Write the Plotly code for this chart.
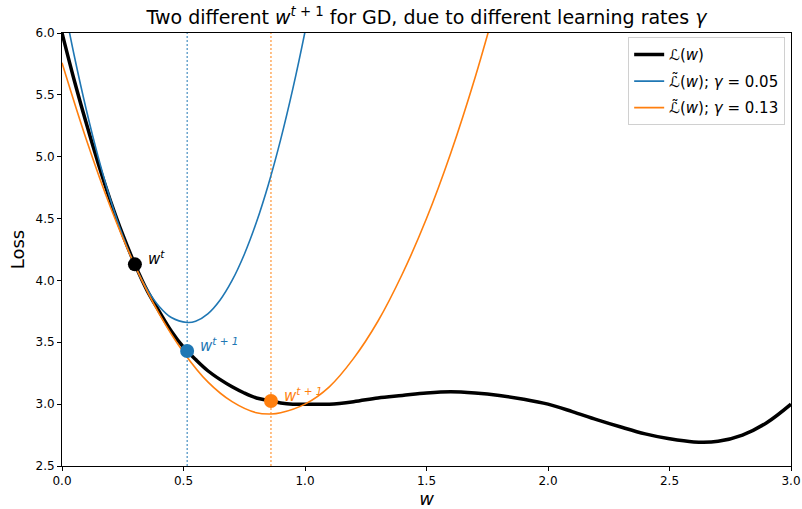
import plotly.graph_objects as go

# Loss curve L(w)
w_loss = [0.00, 0.05, 0.10, 0.15, 0.20, 0.25, 0.30, 0.35, 0.40, 0.45, 0.50, 0.55, 0.60,
          0.65, 0.70, 0.75, 0.80, 0.85, 0.90, 0.95, 1.00, 1.10, 1.20, 1.30, 1.40, 1.50,
          1.60, 1.70, 1.80, 1.90, 2.00, 2.10, 2.20, 2.30, 2.40, 2.50, 2.60, 2.70, 2.80,
          2.90, 3.00]
loss = [6.00, 5.62, 5.27, 4.94, 4.64, 4.37, 4.13, 3.92, 3.75, 3.59, 3.46, 3.36, 3.27,
        3.20, 3.14, 3.09, 3.05, 3.03, 3.01, 3.00, 3.00, 3.00, 3.02, 3.05, 3.07, 3.09,
        3.10, 3.09, 3.07, 3.04, 3.00, 2.94, 2.875, 2.815, 2.76, 2.72, 2.695, 2.70, 2.75,
        2.85, 3.00]

# Quadratic model, gamma = 0.05
w_blue = [0.00, 0.05, 0.10, 0.15, 0.20, 0.25, 0.30, 0.35, 0.40, 0.45, 0.515, 0.55, 0.60,
          0.65, 0.70, 0.75, 0.80, 0.85, 0.90, 0.95, 1.00, 1.05]
loss_blue = [6.31, 5.82, 5.38, 4.99, 4.65, 4.36, 4.12, 3.93, 3.79, 3.70, 3.66, 3.67, 3.73,
             3.84, 4.00, 4.21, 4.47, 4.78, 5.14, 5.55, 6.01, 6.52]

# Quadratic model, gamma = 0.13
w_orange = [0.00, 0.10, 0.20, 0.30, 0.40, 0.50, 0.60, 0.70, 0.80, 0.86, 0.90, 1.00, 1.10,
            1.20, 1.30, 1.40, 1.50, 1.60, 1.70, 1.80]
loss_orange = [5.76, 5.14, 4.59, 4.12, 3.73, 3.42, 3.18, 3.02, 2.93, 2.92, 2.93, 3.00, 3.14,
               3.37, 3.67, 4.05, 4.50, 5.03, 5.64, 6.33]

# iterates
w_t = [0.30]
loss_t = [4.13]
w_next = [0.515, 0.86]
loss_next = [3.43, 3.025]

BLUE = "#1f77b4"
ORANGE = "#ff7f0e"
FONT = "DejaVu Sans"

fig = go.Figure()
fig.add_trace(go.Scatter(x=w_loss, y=loss, mode="lines", line=dict(color="black", width=3.5, shape="spline", smoothing=1),
                         name="ℒ(<i>w</i>)", legendgroup="a"))
fig.add_trace(go.Scatter(x=w_blue, y=loss_blue, mode="lines", line=dict(color=BLUE, width=1.6, shape="spline", smoothing=1),
                         name="ℒ̃(<i>w</i>); <i>γ</i> = 0.05", legendgroup="b"))
fig.add_trace(go.Scatter(x=w_orange, y=loss_orange, mode="lines", line=dict(color=ORANGE, width=1.6, shape="spline", smoothing=1),
                         name="ℒ̃(<i>w</i>); <i>γ</i> = 0.13", legendgroup="c"))

fig.add_trace(go.Scatter(x=w_t, y=loss_t, mode="markers", marker=dict(color="black", size=14), showlegend=False))
fig.add_trace(go.Scatter(x=w_next[:1], y=loss_next[:1], mode="markers", marker=dict(color=BLUE, size=14), showlegend=False))
fig.add_trace(go.Scatter(x=w_next[1:], y=loss_next[1:], mode="markers", marker=dict(color=ORANGE, size=14), showlegend=False))

for xv, col in zip(w_next, [BLUE, ORANGE]):
    fig.add_shape(type="line", xref="x", yref="paper", x0=xv, x1=xv, y0=0, y1=1,
                  line=dict(color=col, width=1, dash="2px,2px"), layer="below")

labels = [(w_t[0], loss_t[0], "<i>w<sup>t</sup></i>", "black"),
          (w_next[0], loss_next[0], "<i>w<sup>t + 1</sup></i>", BLUE),
          (w_next[1], loss_next[1], "<i>w<sup>t + 1</sup></i>", ORANGE)]
for xv, yv, txt, col in labels:
    fig.add_annotation(x=xv, y=yv, text=txt, showarrow=False, xanchor="left", yanchor="middle",
                       xshift=11, yshift=6, font=dict(family=FONT, size=15, color=col))

axis_common = dict(showgrid=False, zeroline=False, showline=True, linecolor="black", linewidth=1,
                   mirror=True, ticks="outside", ticklen=4, tickwidth=1, tickcolor="black",
                   automargin=False,
                   tickfont=dict(family=FONT, size=12, color="black"))

fig.update_layout(
    width=802, height=509,
    margin=dict(l=62, r=11, t=33, b=43),
    plot_bgcolor="white", paper_bgcolor="white",
    font=dict(family=FONT, color="black"),
    title=dict(text="Two different <i>w</i><sup><i>t</i> + 1</sup> for GD, due to different learning rates <i>γ</i>",
               x=0.5, xref="paper", xanchor="center", y=1 - 17 / 509, yref="container", yanchor="middle",
               font=dict(family=FONT, size=19, color="black"), automargin=False),
    xaxis=dict(range=[0, 3], tickvals=[0, 0.5, 1, 1.5, 2, 2.5, 3], ticktext=["0.0", "0.5", "1.0", "1.5", "2.0", "2.5", "3.0"],
               title=dict(text="<i>w</i>", font=dict(family=FONT, size=18), standoff=2), **axis_common),
    yaxis=dict(range=[2.5, 6], tickvals=[2.5, 3, 3.5, 4, 4.5, 5, 5.5, 6],
               ticktext=["2.5", "3.0", "3.5", "4.0", "4.5", "5.0", "5.5", "6.0"],
               title=dict(text="Loss", font=dict(family=FONT, size=18), standoff=6), **axis_common),
    legend=dict(x=0.992, y=0.99, xanchor="right", yanchor="top", bgcolor="white",
                bordercolor="#d0d0d0", borderwidth=1, traceorder="grouped", tracegroupgap=4,
                font=dict(family=FONT, size=15, color="black")),
    showlegend=True,
)

fig.write_html("out.html")
